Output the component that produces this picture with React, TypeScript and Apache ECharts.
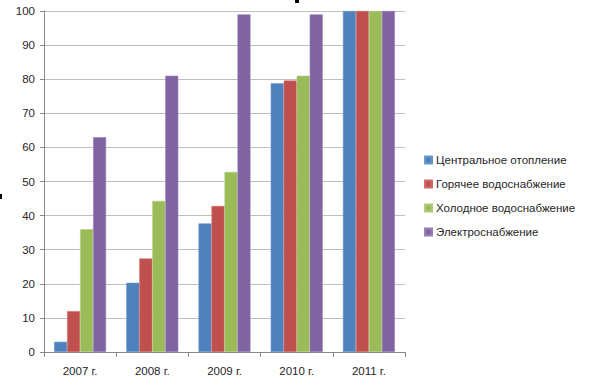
import React, { useEffect, useRef } from "react";
import * as echarts from "echarts";

const categories = ["2007 г.", "2008 г.", "2009 г.", "2010 г.", "2011 г."];
const seriesNames = [
  "Центральное отопление",
  "Горячее водоснабжение",
  "Холодное водоснабжение",
  "Электроснабжение",
];
const heating = [3, 20.3, 37.7, 78.8, 100];
const hotWater = [12, 27.4, 42.8, 79.6, 100];
const coldWater = [36, 44.3, 52.8, 81, 100];
const electricity = [63, 81, 99, 99, 100];
const colors = ["#4F81BD", "#C0504D", "#9BBB59", "#8064A2"];
const borders = ["#6C97CC", "#D06B68", "#B0CC78", "#9880B8"];

export default function App() {
  const ref = useRef<HTMLDivElement>(null);
  useEffect(() => {
    if (!ref.current) return;
    const chart = echarts.init(ref.current, undefined, { renderer: "svg" });
    const data = [heating, hotWater, coldWater, electricity];
    const font = "'Liberation Sans', Arial, sans-serif";
    chart.setOption({
      animation: false,
      backgroundColor: "#ffffff",
      grid: { left: 44, right: 185, top: 11, bottom: 34, containLabel: false },
      legend: {
        orient: "vertical",
        left: 424,
        top: 153,
        padding: 0,
        itemWidth: 7,
        itemHeight: 7,
        itemGap: 10,
        icon: "rect",
        textStyle: { fontFamily: font, fontSize: 11.5, lineHeight: 14, color: "#262626", padding: [0, 0, 0, -1] },
        data: seriesNames,
      },
      xAxis: {
        type: "category",
        data: categories,
        axisLine: { lineStyle: { color: "#868686" } },
        axisTick: { show: true, length: 5, lineStyle: { color: "#868686" } },
        axisLabel: { fontFamily: font, fontSize: 11.5, color: "#262626", margin: 13 },
      },
      yAxis: {
        type: "value",
        min: 0,
        max: 100,
        interval: 10,
        axisLine: { show: true, lineStyle: { color: "#868686" } },
        axisTick: { show: true, length: 4, lineStyle: { color: "#868686" } },
        axisLabel: { fontFamily: font, fontSize: 11.5, color: "#262626", margin: 9 },
        splitLine: { lineStyle: { color: "#BFBFBF" } },
      },
      series: seriesNames.map((name, i) => ({
        name,
        type: "bar",
        data: data[i],
        barGap: "0%",
        barCategoryGap: "28%",
        itemStyle: { color: colors[i], borderColor: borders[i], borderWidth: 0.6 },
      })),
      graphic: [
        { type: "rect", shape: { x: 295, y: 0, width: 4, height: 3 }, style: { fill: "#000" } },
        { type: "rect", shape: { x: 0, y: 194, width: 2, height: 5 }, style: { fill: "#000" } },
      ],
    });
    return () => chart.dispose();
  }, []);
  return (
    <div
      ref={ref}
      style={{ position: "fixed", left: 0, top: 0, width: 590, height: 386, background: "#fff" }}
    />
  );
}
